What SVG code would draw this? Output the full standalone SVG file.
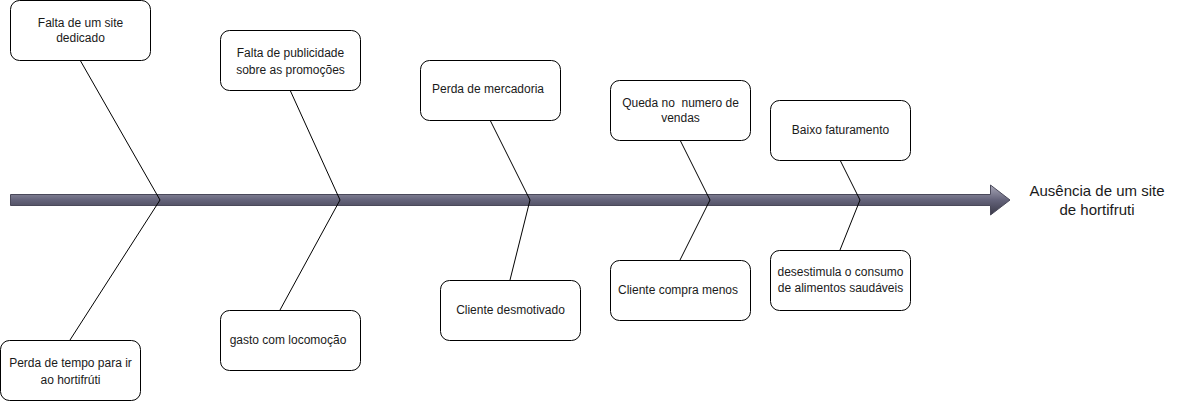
<svg xmlns="http://www.w3.org/2000/svg" width="1191" height="401" viewBox="0 0 1191 401">
<defs>
<linearGradient id="g" x1="0" y1="0" x2="0" y2="1">
<stop offset="0" stop-color="#a9a8b8"/>
<stop offset="0.5" stop-color="#64637a"/>
<stop offset="1" stop-color="#3a3948"/>
</linearGradient>
</defs>
<style>
.box{fill:#fff;stroke:#000;stroke-width:1}
.t{font-family:"Liberation Sans",Arial,sans-serif;font-size:12px;fill:#1a1a1a;text-anchor:middle}
.big{font-family:"Liberation Sans",Arial,sans-serif;font-size:15px;fill:#1a1a1a;text-anchor:middle}
.ln{fill:none;stroke:#000;stroke-width:1}
</style>
<rect width="1191" height="401" fill="#fff"/>
<g id="spine">
<path d="M10.5,194.5 L990.5,194.5 L990.5,185 L1010,200 L990.5,215 L990.5,205.5 L10.5,205.5 Z" fill="url(#g)" stroke="#4a495a" stroke-width="1"/>
</g>
<g id="connectors">
<polyline class="ln" points="80,60 160,200 70,340"/>
<polyline class="ln" points="290,90 340,200 280,310"/>
<polyline class="ln" points="490,120 530,200 510,280"/>
<polyline class="ln" points="680,140 710,200 680,260"/>
<polyline class="ln" points="840,160 860,200 840,250"/>
</g>
<g id="n1"><rect class="box" x="10.5" y="0.5" width="140" height="60" rx="9"/><text class="t" x="80.5" y="27">Falta de um site</text><text class="t" x="80.5" y="42">dedicado</text></g>
<g id="n2"><rect class="box" x="220.5" y="30.5" width="140" height="60" rx="9"/><text class="t" x="290.5" y="57">Falta de publicidade</text><text class="t" x="290.5" y="74">sobre as promoções</text></g>
<g id="n3"><rect class="box" x="420.5" y="60.5" width="140" height="60" rx="9"/><text class="t" x="488" y="93">Perda de mercadoria</text></g>
<g id="n4"><rect class="box" x="610.5" y="80.5" width="140" height="60" rx="9"/><text class="t" x="680.5" y="107" style="white-space:pre" xml:space="preserve">Queda no  numero de</text><text class="t" x="680.5" y="122">vendas</text></g>
<g id="n5"><rect class="box" x="770.5" y="100.5" width="140" height="60" rx="9"/><text class="t" x="840.5" y="134">Baixo faturamento</text></g>
<g id="n6"><rect class="box" x="0.5" y="340.5" width="140" height="60" rx="9"/><text class="t" x="70.5" y="367">Perda de tempo para ir</text><text class="t" x="70.5" y="384">ao hortifrúti</text></g>
<g id="n7"><rect class="box" x="220.5" y="310.5" width="140" height="60" rx="9"/><text class="t" x="288" y="344">gasto com locomoção</text></g>
<g id="n8"><rect class="box" x="440.5" y="280.5" width="140" height="60" rx="9"/><text class="t" x="510.5" y="314">Cliente desmotivado</text></g>
<g id="n9"><rect class="box" x="610.5" y="260.5" width="140" height="60" rx="9"/><text class="t" x="678" y="294">Cliente compra menos</text></g>
<g id="n10"><rect class="box" x="770.5" y="250.5" width="140" height="60" rx="9"/><text class="t" x="840.5" y="276">desestimula o consumo</text><text class="t" x="840.5" y="292">de alimentos saudáveis</text></g>
<g id="title"><text class="big" x="1097" y="196">Ausência de um site</text><text class="big" x="1097" y="215">de hortifruti</text></g>
</svg>
